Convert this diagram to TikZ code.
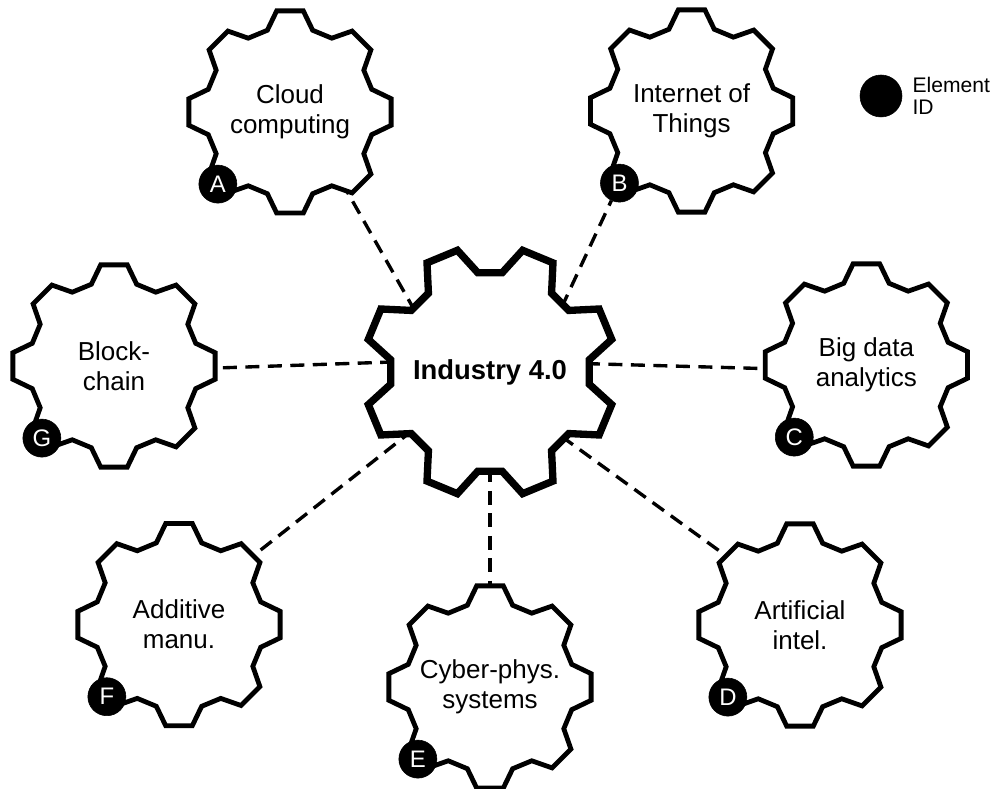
\documentclass[tikz,border=0pt]{standalone}
\usepackage{fontspec}
\setmainfont{Liberation Sans}
\usetikzlibrary{positioning}
\pgfdeclarelayer{wires}
\pgfdeclarelayer{gears}
\pgfsetlayers{wires,gears,main}
\begin{document}
\begin{tikzpicture}[
  gear/.style={draw=black, fill=white, line width=3.4pt},
  hubgear/.style={draw=black, fill=white, line width=5.2pt},
  element/.style={circle, minimum size=4cm, inner sep=0pt, align=center,
    font=\fontsize{18.5}{21.3}\selectfont},
  hublabel/.style={circle, minimum size=4.8cm, inner sep=0pt,
    font=\fontsize{19.5}{22}\selectfont\bfseries},
  badge/.style={circle, fill=black, draw=black, minimum size=0.95cm, inner sep=0pt,
    text=white, font=\fontsize{17}{17}\selectfont},
  link/.style={line width=2.4pt, dash pattern=on 10pt off 6pt}
]

\useasboundingbox (0,0) rectangle (24.9,19.725);


% Industry 4.0 hub
\node[hublabel] (hub) at (12.25,10.425) {Industry 4.0};


% Element gears
\node[element] (cloud)    at (7.25,16.925) {Cloud\\computing};
\node[element] (iot)      at (17.29,16.95) {Internet of\\Things};
\node[element] (bigdata)  at (21.66,10.6)  {Big data\\analytics};
\node[element] (ai)       at (20.0,4.1)    {Artificial\\intel.};
\node[element] (cps)      at (12.25,2.55)  {Cyber-phys.\\systems};
\node[element] (additive) at (4.475,4.11)  {Additive\\manu.};
\node[element] (block)    at (2.85,10.575) {Block-\\chain};


% Element IDs
\node[badge] (idA) at ([shift={(225:2.55)}]cloud)    {A};
\node[badge] (idB) at ([shift={(225:2.55)}]iot)      {B};
\node[badge] (idC) at ([shift={(225:2.55)}]bigdata)  {C};
\node[badge] (idD) at ([shift={(225:2.55)}]ai)       {D};
\node[badge] (idE) at ([shift={(225:2.55)}]cps)      {E};
\node[badge] (idF) at ([shift={(225:2.55)}]additive) {F};
\node[badge] (idG) at ([shift={(225:2.55)}]block)    {G};


% Legend
\node[badge, minimum size=1.05cm] (key) at (22.025,17.325) {};
\node[right=0.25cm of key, inner sep=0pt, align=left,
  font=\fontsize{15}{16}\selectfont] (keytext) {Element\\ID};


% Gear outlines
\begin{pgfonlayer}{gears}
\foreach \g in {cloud,iot,bigdata,ai,cps,additive,block}{
  \begin{scope}[shift={(\g)}]
  \filldraw[gear] (-15.5:2.12)
    \foreach \a in {0,45,...,270}{ -- (\a-7.5:2.55) -- (\a+7.5:2.55) -- (\a+15.5:2.12) -- (\a+29.5:2.12)}
    -- (307.5:2.55) -- (322.5:2.55) -- (330.5:2.12) -- cycle;
  \end{scope}
}
\begin{scope}[shift={(hub)}, rotate=22.5]
  \filldraw[hubgear] (-15.5:2.5)
    \foreach \a in {0,45,...,270}{ -- (\a-7.5:3.15) -- (\a+7.5:3.15) -- (\a+15.5:2.5) -- (\a+29.5:2.5)}
    -- (307.5:3.15) -- (322.5:3.15) -- (330.5:2.5) -- cycle;
\end{scope}
\end{pgfonlayer}


% Dashed links to the hub
\begin{pgfonlayer}{wires}
\draw[link] (hub.141)   -- (cloud.307);
\draw[link] (hub.42.5)  -- (idB);
\draw[link] (hub.5)     -- (bigdata.183);
\draw[link] (hub.318.3) -- (ai.135);
\draw[link] (hub.270)   -- (cps.90);
\draw[link] (hub.217.5) -- (additive.44.4);
\draw[link] (hub.174.5) -- (block.358);
\end{pgfonlayer}


\end{tikzpicture}
\end{document}
